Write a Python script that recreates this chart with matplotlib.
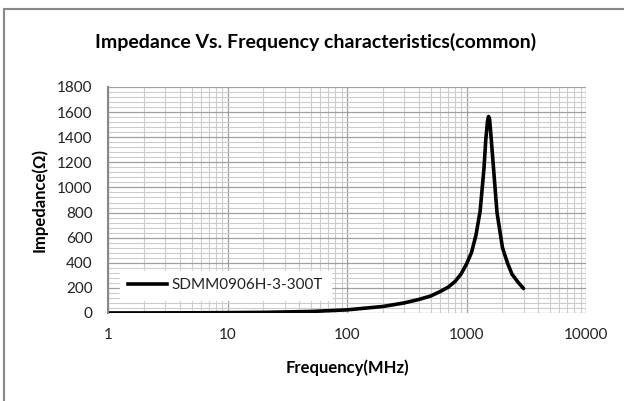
import matplotlib
matplotlib.use("Agg")
import matplotlib.pyplot as plt
from matplotlib.lines import Line2D
from matplotlib.ticker import FixedLocator, MultipleLocator, NullFormatter

plt.rcParams['font.family'] = ['Lato', 'DejaVu Sans']

# impedance curve
freq_mhz = [1, 2, 5, 10, 20, 50, 100, 200, 300, 400, 500, 600, 700, 800, 900,
            1000, 1100, 1200, 1300, 1400, 1450, 1500, 1530, 1560, 1600, 1700,
            1800, 2000, 2200, 2400, 2700, 3000]
impedance = [0.3, 0.6, 1.5, 3, 5, 12, 25, 52, 80, 108, 135, 170, 205, 250, 310,
             390, 480, 620, 810, 1150, 1380, 1530, 1565, 1545, 1420, 1100,
             800, 520, 400, 310, 245, 195]
series_name = "SDMM0906H-3-300T"
x_ticks = [1, 10, 100, 1000, 10000]
x_labels = ["1", "10", "100", "1000", "10000"]

W, H = 624, 401
fig = plt.figure(figsize=(W / 100, H / 100), dpi=100)
ax = fig.add_axes([108 / W, (H - 313) / H, (586 - 108) / W, (313 - 87) / H])

ax.set_xscale("log")
ax.set_xlim(1, 10000)
ax.set_ylim(0, 1800)

ax.xaxis.set_major_locator(FixedLocator(x_ticks))
ax.set_xticklabels(x_labels)
minor_x = [m * d for d in (1, 10, 100, 1000) for m in range(2, 10)]
ax.xaxis.set_minor_locator(FixedLocator(minor_x))
ax.xaxis.set_minor_formatter(NullFormatter())
ax.yaxis.set_major_locator(MultipleLocator(200))
ax.yaxis.set_minor_locator(MultipleLocator(40))

ax.grid(which="minor", color="#cccccc", linewidth=0.8)
ax.grid(which="major", color="#a0a0a0", linewidth=0.9)
ax.set_axisbelow(True)

for s in ("top", "right", "bottom"):
    ax.spines[s].set_visible(False)
ax.spines["left"].set_color("#888888")
ax.spines["left"].set_linewidth(1.5)

ax.tick_params(which="both", length=0)
ax.tick_params(axis="y", pad=11, labelsize=11, labelcolor="#222222")
ax.tick_params(axis="x", pad=11, labelsize=11, labelcolor="#222222")

ax.plot(freq_mhz, impedance, color="black", linewidth=2.6, solid_capstyle="round")

ax.set_xlabel("Frequency(MHz)", fontsize=12, fontweight="bold", labelpad=12)
ax.set_ylabel("Impedance(Ω)", fontsize=12, fontweight="bold", labelpad=7)
fig.text(316 / W, 1 - 42 / H, "Impedance Vs. Frequency characteristics(common)",
         ha="center", va="center", fontsize=14, fontweight="bold")

handle = Line2D([], [], color="black", linewidth=2.6)
leg = ax.legend([handle], [series_name], loc="lower left",
                bbox_to_anchor=((120 - 108) / (586 - 108), (313 - 300) / (313 - 87)),
                frameon=True, fancybox=False, framealpha=1, edgecolor="white",
                fontsize=11, handlelength=2.6, handletextpad=0.3,
                borderpad=0.5, borderaxespad=0)
for t in leg.get_texts():
    t.set_color("#222222")

# chart frame (top and left edges visible)
fig.add_artist(Line2D([4 / W, 1], [1 - 9 / H, 1 - 9 / H], color="#888888", linewidth=1.5))
fig.add_artist(Line2D([4 / W, 4 / W], [0, 1 - 9 / H], color="#888888", linewidth=1.5))

fig.savefig("out.png", dpi=100)
